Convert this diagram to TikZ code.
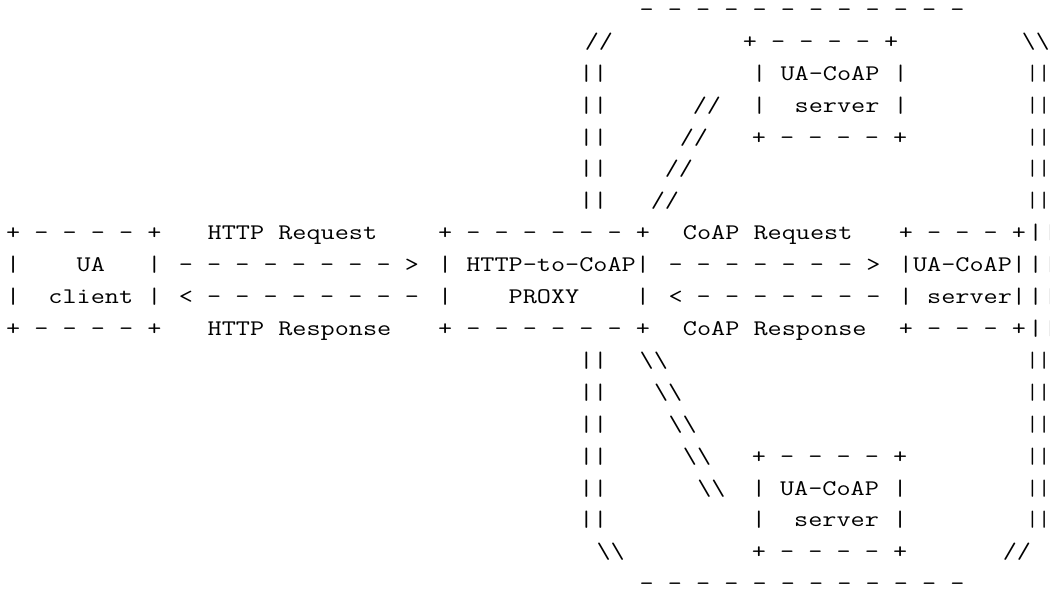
\documentclass[tikz,border=0pt]{standalone}
\usepackage{graphicx}

% Typewriter text on a character grid (cell 14.4 wide, rows 31.9 apart).
% \asciiat[stretch]{name}{x of first cell centre}{row}{text}
\newcommand\asciiat[5][1.23]{%
  \node[asc] (#2) at ({#3-5.85375*#1},{16.5+31.9*#4}) {\scalebox{#1}[1]{#5}};}
% \asciicol{name}{column}{row}{text}
\newcommand\asciicol[4]{\asciiat{#1}{13.3+14.4*#2}{#3}{#4}}
\newcommand\bsl{\textbackslash}

\tikzset{
  asc/.style={anchor=base west, inner sep=0pt, outer sep=0pt,
    font=\fontsize{22.3}{26}\selectfont\ttfamily}
}

\begin{document}
\begin{tikzpicture}[x=1pt,y=-1pt]
\useasboundingbox (0,0) rectangle (1050,593);
\fill[white] (0,0) rectangle (1050,593);

% ---- upper part of the CoAP network cloud
\asciicol{cloudTop}{44}{0}{- - - - - - - - - - - -}
\asciiat{cloudTL}{592}{1}{//}
\asciiat{srvTtop}{750}{1}{+ - - - - +}
\asciiat[1.2]{cloudTR}{1029}{1}{\bsl\bsl}

\asciiat{wallL2}{586.5}{2}{||}
\asciiat{srvTa}{759.5}{2}{|~UA-CoAP~|}
\asciiat[1.025]{wallR2}{1032.5}{2}{||}

\asciiat{wallL3}{586.5}{3}{||}
\asciiat{linkT3}{700}{3}{//}
\asciiat{srvTb}{759.5}{3}{|~~server~|}
\asciiat[1.025]{wallR3}{1032.5}{3}{||}

\asciiat{wallL4}{586.5}{4}{||}
\asciiat{linkT4}{687}{4}{//}
\asciiat{srvTbot}{759}{4}{+ - - - - +}
\asciiat[1.025]{wallR4}{1032.5}{4}{||}

\asciiat{wallL5}{586.5}{5}{||}
\asciiat{linkT5}{672}{5}{//}
\asciiat[1.025]{wallR5}{1032.5}{5}{||}

\asciiat{wallL6}{586.5}{6}{||}
\asciiat{linkT6}{658}{6}{//}
\asciiat[1.025]{wallR6}{1032.5}{6}{||}

% ---- client, proxy and server row
\asciicol{uaTop}{0}{7}{+ - - - - +}
\asciicol{httpReq}{14}{7}{HTTP Request}
\asciicol{pxTop}{30}{7}{+ - - - - - - +}
\asciicol{coapReq}{47}{7}{CoAP Request}
\asciicol{srvRtop}{62}{7}{+ - - - +}
\asciicol{wallR7}{71}{7}{|}
\asciiat{wallR7x}{1051}{7}{|}

\asciicol{uaA}{0}{8}{|~~~~UA~~~|}
\asciicol{arrHreq}{12}{8}{- - - - - - - - >}
\asciicol{pxA}{30}{8}{|~HTTP-to-CoAP|}
\asciicol{arrCreq}{46}{8}{- - - - - - - >}
\asciicol{srvRa}{62}{8}{|UA-CoAP|}
\asciicol{wallR8}{71}{8}{|}
\asciiat{wallR8x}{1051}{8}{|}

\asciicol{uaB}{0}{9}{|~~client~|}
\asciicol{arrHres}{12}{9}{< - - - - - - - -}
\asciicol{pxB}{30}{9}{|~~~~PROXY~~~~|}
\asciicol{arrCres}{46}{9}{< - - - - - - -}
\asciicol{srvRb}{62}{9}{|~server|}
\asciicol{wallR9}{71}{9}{|}
\asciiat{wallR9x}{1051}{9}{|}

\asciicol{uaBot}{0}{10}{+ - - - - +}
\asciicol{httpRes}{14}{10}{HTTP Response}
\asciicol{pxBot}{30}{10}{+ - - - - - - +}
\asciicol{coapRes}{47}{10}{CoAP Response}
\asciicol{srvRbot}{62}{10}{+ - - - +}
\asciicol{wallR10}{71}{10}{|}
\asciiat{wallR10x}{1051}{10}{|}

% ---- lower part of the CoAP network cloud
\asciiat{wallL11}{586.5}{11}{||}
\asciicol{linkB11}{44}{11}{\bsl\bsl}
\asciiat[1.025]{wallR11}{1032.5}{11}{||}

\asciiat{wallL12}{586.5}{12}{||}
\asciicol{linkB12}{45}{12}{\bsl\bsl}
\asciiat[1.025]{wallR12}{1032.5}{12}{||}

\asciiat{wallL13}{586.5}{13}{||}
\asciicol{linkB13}{46}{13}{\bsl\bsl}
\asciiat[1.025]{wallR13}{1032.5}{13}{||}

\asciiat{wallL14}{586.5}{14}{||}
\asciicol{linkB14}{47}{14}{\bsl\bsl}
\asciiat{srvBtop}{759}{14}{+ - - - - +}
\asciiat[1.025]{wallR14}{1032.5}{14}{||}

\asciiat{wallL15}{586.5}{15}{||}
\asciicol{linkB15}{48}{15}{\bsl\bsl}
\asciiat{srvBa}{759}{15}{|~UA-CoAP~|}
\asciiat[1.025]{wallR15}{1032.5}{15}{||}

\asciiat{wallL16}{586.5}{16}{||}
\asciiat{srvBb}{759}{16}{|~~server~|}
\asciiat[1.025]{wallR16}{1032.5}{16}{||}

\asciicol{cloudBL}{41}{17}{\bsl\bsl}
\asciiat{srvBbot}{759}{17}{+ - - - - +}
\asciiat{cloudBR}{1010}{17}{//}

\asciicol{cloudBot}{44}{18}{- - - - - - - - - - - -}
\end{tikzpicture}
\end{document}
